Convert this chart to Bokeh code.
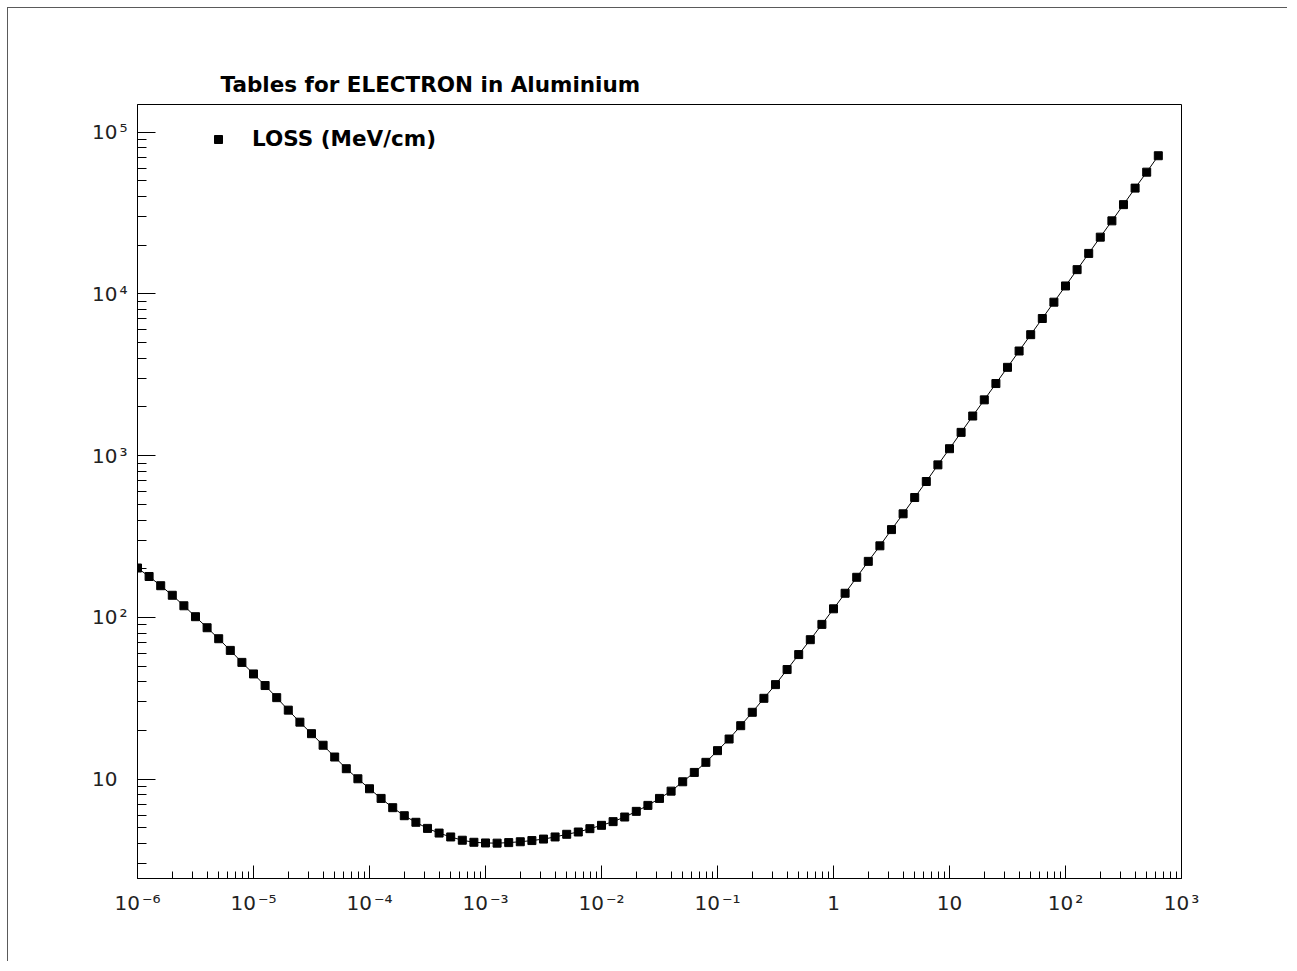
from bokeh.plotting import figure
from bokeh.models import FixedTicker, Legend, LegendItem, Range1d
from bokeh.embed import file_html
from bokeh.resources import INLINE

# ---- data ----
energy = [
    1.000e-6, 1.259e-6, 1.585e-6, 1.995e-6, 2.512e-6, 3.162e-6, 3.981e-6, 5.012e-6, 6.310e-6, 7.943e-6,
    1.000e-5, 1.259e-5, 1.585e-5, 1.995e-5, 2.512e-5, 3.162e-5, 3.981e-5, 5.012e-5, 6.310e-5, 7.943e-5,
    1.000e-4, 1.259e-4, 1.585e-4, 1.995e-4, 2.512e-4, 3.162e-4, 3.981e-4, 5.012e-4, 6.310e-4, 7.943e-4,
    1.000e-3, 1.259e-3, 1.585e-3, 1.995e-3, 2.512e-3, 3.162e-3, 3.981e-3, 5.012e-3, 6.310e-3, 7.943e-3,
    1.000e-2, 1.259e-2, 1.585e-2, 1.995e-2, 2.512e-2, 3.162e-2, 3.981e-2, 5.012e-2, 6.310e-2, 7.943e-2,
    1.000e-1, 1.259e-1, 1.585e-1, 1.995e-1, 2.512e-1, 3.162e-1, 3.981e-1, 5.012e-1, 6.310e-1, 7.943e-1,
    1.000e0, 1.259e0, 1.585e0, 1.995e0, 2.512e0, 3.162e0, 3.981e0, 5.012e0, 6.310e0, 7.943e0,
    1.000e1, 1.259e1, 1.585e1, 1.995e1, 2.512e1, 3.162e1, 3.981e1, 5.012e1, 6.310e1, 7.943e1,
    1.000e2, 1.259e2, 1.585e2, 1.995e2, 2.512e2, 3.162e2, 3.981e2, 5.012e2, 6.310e2,
]
loss_mev_cm = [
    202, 179, 157, 137, 118, 101, 86.3, 73.8, 62.5, 52.7,
    44.7, 37.9, 31.9, 26.7, 22.5, 19.1, 16.2, 13.7, 11.6, 10.05,
    8.72, 7.60, 6.66, 5.94, 5.41, 4.96, 4.64, 4.39, 4.19, 4.07,
    4.03, 4.02, 4.05, 4.10, 4.17, 4.26, 4.39, 4.56, 4.71, 4.94,
    5.18, 5.46, 5.83, 6.32, 6.88, 7.60, 8.43, 9.63, 11.0, 12.7,
    15.0, 17.7, 21.4, 25.9, 31.6, 38.4, 47.6, 58.9, 72.8, 90.5,
    113, 141, 177, 222, 277, 349, 437, 551, 692, 877,
    1104, 1393, 1758, 2213, 2792, 3516, 4436, 5598, 7047, 8891,
    11200, 14130, 17800, 22440, 28300, 35650, 45100, 56600, 71500,
]

title_text = "Tables for ELECTRON in Aluminium"
legend_label = "LOSS (MeV/cm)"

x_ticks = [1e-6, 1e-5, 1e-4, 1e-3, 1e-2, 1e-1, 1.0, 10.0, 100.0, 1000.0]
x_tick_labels = ["10\u200a\u207b\u2076", "10\u200a\u207b\u2075", "10\u200a\u207b\u2074", "10\u200a\u207b\u00b3",
                 "10\u200a\u207b\u00b2", "10\u200a\u207b\u00b9", "1", "10", "10\u200a\u00b2", "10\u200a\u00b3"]
y_ticks = [10.0, 100.0, 1000.0, 10000.0, 100000.0]
y_tick_labels = ["10\u2002", "10\u200a\u00b2", "10\u200a\u00b3", "10\u200a\u2074", "10\u200a\u2075"]

# minor ticks at 2..9 of every decade
x_minor = [m * d for d in [1e-6, 1e-5, 1e-4, 1e-3, 1e-2, 1e-1, 1.0, 10.0, 100.0] for m in range(2, 10)]
y_minor = [m * d for d in [1.0, 10.0, 100.0, 1000.0, 10000.0, 100000.0] for m in range(2, 10)]

p = figure(
    width=1280, height=954,
    x_axis_type="log", y_axis_type="log",
    x_range=Range1d(1e-6, 1e3), y_range=Range1d(2.43, 1.483e5),
    output_backend="svg", toolbar_location=None,
    min_border_left=129, min_border_right=107, min_border_top=96, min_border_bottom=84,
    background_fill_color="white", border_fill_color="white",
)
p.styles = {"margin-left": "7px", "margin-top": "7px",
            "border-left": "1px solid #5a5a5a", "border-top": "1px solid #5a5a5a"}

p.grid.visible = False
p.outline_line_color = "black"
p.outline_line_width = 1

# title
p.title.text = title_text
p.title.text_font = "DejaVu Sans"
p.title.text_font_style = "bold"
p.title.text_font_size = "21.5px"
p.title.text_color = "black"
p.title.align = "left"
p.title.offset = 83
p.title.standoff = 16

# axes
xa = p.xaxis[0]
ya = p.yaxis[0]
xa.ticker = FixedTicker(ticks=x_ticks, minor_ticks=x_minor)
ya.ticker = FixedTicker(ticks=y_ticks, minor_ticks=y_minor)
xa.major_label_overrides = {t: lab for t, lab in zip(x_ticks, x_tick_labels)}
ya.major_label_overrides = {t: lab for t, lab in zip(y_ticks, y_tick_labels)}

for ax in (xa, ya):
    ax.axis_line_color = "black"
    ax.axis_line_width = 1
    ax.major_tick_line_color = "black"
    ax.minor_tick_line_color = "black"
    ax.major_tick_out = 0
    ax.minor_tick_out = 0
    ax.major_label_text_font = "DejaVu Sans"
    ax.major_label_text_font_size = "20px"
    ax.major_label_text_color = "#222222"

xa.major_tick_in = 13
xa.minor_tick_in = 7
xa.major_label_standoff = 12
ya.major_tick_in = 18
ya.minor_tick_in = 9
ya.major_label_standoff = 10

# data
p.line(energy, loss_mev_cm, line_color="black", line_width=1)
pts = p.scatter(energy, loss_mev_cm, marker="square", size=8,
                fill_color="black", line_color="black")

legend = Legend(
    items=[LegendItem(label=legend_label, renderers=[pts])],
    location=(71, 727),
    padding=0, margin=0, spacing=0,
    border_line_color=None, background_fill_alpha=0,
    glyph_width=20, glyph_height=20, label_height=20,
    label_standoff=24,
    label_text_font="DejaVu Sans", label_text_font_style="bold",
    label_text_font_size="21.5px", label_text_color="black",
)
p.add_layout(legend)

open("out.html", "w").write(file_html(p, INLINE))
